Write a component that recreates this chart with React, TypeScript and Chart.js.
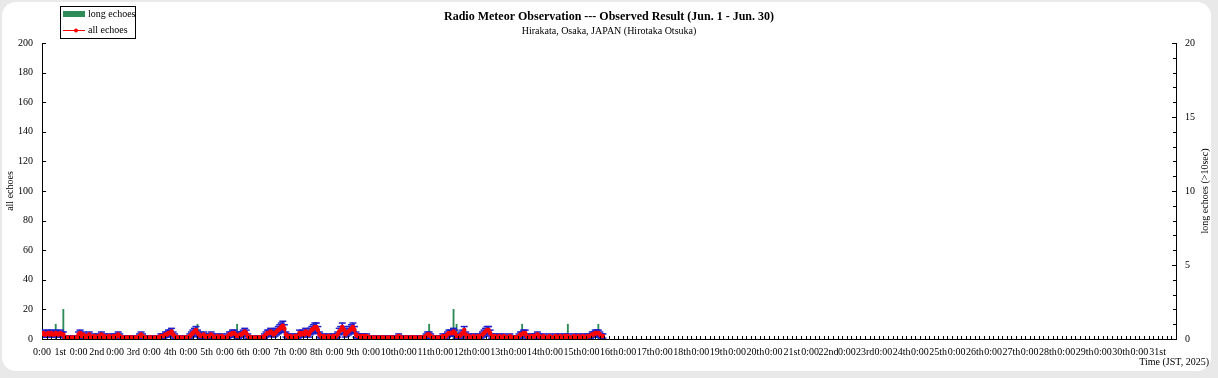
import React, { useEffect, useRef } from 'react';
import { Chart, registerables } from 'chart.js';

Chart.register(...registerables);

const FONT = "'Liberation Serif', 'Times New Roman', serif";

const TITLE = 'Radio Meteor Observation --- Observed Result (Jun. 1 - Jun. 30)';
const SUBTITLE = 'Hirakata, Osaka, JAPAN (Hirotaka Otsuka)';

// x axis: hours since Jun 1 0:00 (31-day frame)
const X_MAX_HOURS = 744;

const dayOrdinals = [
  '1st', '2nd', '3rd', '4th', '5th', '6th', '7th', '8th', '9th', '10th',
  '11th', '12th', '13th', '14th', '15th', '16th', '17th', '18th', '19th', '20th',
  '21st', '22nd', '23rd', '24th', '25th', '26th', '27th', '28th', '29th', '30th', '31st',
];

// hourly counts of all echoes, starting Jun 1 0:00
const allEchoes: number[] = [
  3, 4, 3, 3, 4, 3, 4, 3, 3, 4, 3, 3, 4, 3, 3, 1, 0, 1, 1, 0, 1, 1, 0, 1, // Jun 1
  3, 4, 2, 3, 1, 2, 1, 3, 1, 1, 2, 1, 1, 2, 1, 3, 1, 2, 1, 1, 2, 1, 1, 2, // Jun 2
  1, 2, 3, 2, 1, 1, 1, 0, 1, 1, 1, 1, 0, 1, 1, 1, 2, 3, 2, 1, 1, 0, 1, 1, // Jun 3
  1, 0, 1, 1, 1, 1, 2, 2, 2, 3, 3, 4, 4, 5, 3, 2, 1, 1, 1, 1, 0, 1, 1, 1, // Jun 4
  1, 2, 3, 4, 5, 6, 4, 3, 2, 2, 3, 2, 1, 2, 2, 3, 2, 1, 1, 2, 1, 1, 2, 1, // Jun 5
  1, 1, 2, 3, 3, 4, 4, 3, 2, 2, 3, 3, 4, 5, 4, 2, 1, 1, 1, 1, 0, 1, 1, 1, // Jun 6
  1, 1, 2, 3, 4, 4, 5, 4, 3, 4, 5, 6, 7, 8, 9, 7, 3, 2, 1, 2, 1, 1, 2, 1, // Jun 7
  2, 4, 3, 4, 3, 5, 4, 3, 5, 6, 7, 8, 8, 6, 3, 2, 1, 2, 1, 1, 2, 1, 1, 2, // Jun 8
  1, 2, 3, 5, 6, 8, 6, 3, 4, 5, 6, 7, 8, 6, 3, 2, 2, 1, 2, 2, 1, 2, 1, 1, // Jun 9
  1, 1, 0, 1, 1, 0, 1, 1, 1, 0, 1, 0, 1, 1, 1, 0, 1, 1, 2, 1, 1, 0, 1, 1, // Jun 10
  1, 0, 1, 1, 1, 1, 0, 1, 1, 1, 1, 1, 2, 3, 3, 2, 1, 1, 1, 1, 0, 1, 1, 2, // Jun 11
  1, 2, 3, 4, 4, 4, 5, 4, 2, 2, 2, 3, 4, 6, 3, 1, 2, 1, 1, 2, 1, 1, 2, 1, // Jun 12
  2, 3, 4, 5, 6, 6, 4, 2, 1, 2, 1, 1, 2, 1, 1, 2, 1, 1, 1, 2, 1, 1, 1, 1, // Jun 13
  1, 2, 3, 3, 4, 4, 2, 1, 1, 2, 1, 2, 2, 3, 2, 1, 1, 2, 1, 1, 1, 2, 1, 1, // Jun 14
  1, 2, 1, 1, 2, 1, 1, 2, 1, 2, 1, 1, 1, 2, 1, 1, 2, 1, 1, 2, 1, 1, 2, 2, // Jun 15
  2, 3, 3, 4, 4, 4, 3, 2, 2, // Jun 16
];

// error bar half-lengths for all echoes (blue bars)
const allEchoesErr: number[] = [
  1.7, 2, 1.7, 1.7, 2, 1.7, 2, 1.7, 1.7, 2, 1.7, 1.7, 2, 1.7, 1.7, 1, 0, 1, 1, 0, 1, 1, 0, 1,
  1.7, 2, 1.4, 1.7, 1, 1.4, 1, 1.7, 1, 1, 1.4, 1, 1, 1.4, 1, 1.7, 1, 1.4, 1, 1, 1.4, 1, 1, 1.4,
  1, 1.4, 1.7, 1.4, 1, 1, 1, 0, 1, 1, 1, 1, 0, 1, 1, 1, 1.4, 1.7, 1.4, 1, 1, 0, 1, 1,
  1, 0, 1, 1, 1, 1, 1.4, 1.4, 1.4, 1.7, 1.7, 2, 2, 2.2, 1.7, 1.4, 1, 1, 1, 1, 0, 1, 1, 1,
  1, 1.4, 1.7, 2, 2.2, 2.4, 2, 1.7, 1.4, 1.4, 1.7, 1.4, 1, 1.4, 1.4, 1.7, 1.4, 1, 1, 1.4, 1, 1, 1.4, 1,
  1, 1, 1.4, 1.7, 1.7, 2, 2, 1.7, 1.4, 1.4, 1.7, 1.7, 2, 2.2, 2, 1.4, 1, 1, 1, 1, 0, 1, 1, 1,
  1, 1, 1.4, 1.7, 2, 2, 2.2, 2, 1.7, 2, 2.2, 2.4, 2.6, 2.8, 3, 2.6, 1.7, 1.4, 1, 1.4, 1, 1, 1.4, 1,
  1.4, 2, 1.7, 2, 1.7, 2.2, 2, 1.7, 2.2, 2.4, 2.6, 2.8, 2.8, 2.4, 1.7, 1.4, 1, 1.4, 1, 1, 1.4, 1, 1, 1.4,
  1, 1.4, 1.7, 2.2, 2.4, 2.8, 2.4, 1.7, 2, 2.2, 2.4, 2.6, 2.8, 2.4, 1.7, 1.4, 1.4, 1, 1.4, 1.4, 1, 1.4, 1, 1,
  1, 1, 0, 1, 1, 0, 1, 1, 1, 0, 1, 0, 1, 1, 1, 0, 1, 1, 1.4, 1, 1, 0, 1, 1,
  1, 0, 1, 1, 1, 1, 0, 1, 1, 1, 1, 1, 1.4, 1.7, 1.7, 1.4, 1, 1, 1, 1, 0, 1, 1, 1.4,
  1, 1.4, 1.7, 2, 2, 2, 2.2, 2, 1.4, 1.4, 1.4, 1.7, 2, 2.4, 1.7, 1, 1.4, 1, 1, 1.4, 1, 1, 1.4, 1,
  1.4, 1.7, 2, 2.2, 2.4, 2.4, 2, 1.4, 1, 1.4, 1, 1, 1.4, 1, 1, 1.4, 1, 1, 1, 1.4, 1, 1, 1, 1,
  1, 1.4, 1.7, 1.7, 2, 2, 1.4, 1, 1, 1.4, 1, 1.4, 1.4, 1.7, 1.4, 1, 1, 1.4, 1, 1, 1, 1.4, 1, 1,
  1, 1.4, 1, 1, 1.4, 1, 1, 1.4, 1, 1.4, 1, 1, 1, 1.4, 1, 1, 1.4, 1, 1, 1.4, 1, 1, 1.4, 1.4,
  1.4, 1.7, 1.7, 2, 2, 2, 1.7, 1.4, 1.4,
];

// long echoes (> 10 sec): hour since Jun 1 0:00 and count
const longEchoHours = [9, 14, 102, 128, 254, 270, 272, 315, 345, 365];
const longEchoCounts = [1, 2, 1, 1, 1, 2, 1, 1, 1, 1];

const RED = '#ff0000';
const BLUE = '#2020c8';
const GREEN = '#2e8b57';

const decorPlugin = {
  id: 'decor',
  afterDraw(chart: any) {
    const { ctx, chartArea, scales } = chart;
    const x = scales.x;
    const y = scales.y;
    const y2 = scales.y2;
    ctx.save();
    ctx.strokeStyle = '#000';
    ctx.lineWidth = 1;
    ctx.beginPath();
    // inward minor ticks on x axis every 3 hours
    for (let h = 0; h <= X_MAX_HOURS; h += 3) {
      const px = Math.round(x.getPixelForValue(h)) + 0.5;
      ctx.moveTo(px, chartArea.bottom);
      ctx.lineTo(px, chartArea.bottom - 3);
    }
    // left axis ticks
    y.ticks.forEach((t: any) => {
      const py = Math.round(y.getPixelForValue(t.value)) + 0.5;
      ctx.moveTo(chartArea.left, py);
      ctx.lineTo(chartArea.left + 4, py);
    });
    // right axis ticks (minor every 1)
    for (let v = 0; v <= 20; v += 1) {
      const py = Math.round(y2.getPixelForValue(v)) + 0.5;
      const len = v % 5 === 0 ? 4 : 3;
      ctx.moveTo(chartArea.right, py);
      ctx.lineTo(chartArea.right - len, py);
    }
    ctx.stroke();

    ctx.fillStyle = '#000';
    ctx.font = `10px ${FONT}`;
    ctx.textBaseline = 'middle';

    // x axis title
    ctx.textAlign = 'right';
    ctx.fillText('Time (JST, 2025)', 1209, 362);

    const midY = (chartArea.top + chartArea.bottom) / 2;
    // left axis title
    ctx.save();
    ctx.translate(10, midY);
    ctx.rotate(-Math.PI / 2);
    ctx.textAlign = 'center';
    ctx.fillText('all echoes', 0, 0);
    ctx.restore();
    // right axis title
    ctx.save();
    ctx.translate(1205, midY);
    ctx.rotate(-Math.PI / 2);
    ctx.textAlign = 'center';
    ctx.fillText('long echoes (>10sec)', 0, 0);
    ctx.restore();

    // legend
    ctx.fillStyle = '#fff';
    ctx.fillRect(60, 6, 75, 32);
    ctx.strokeStyle = '#000';
    ctx.strokeRect(60.5, 6.5, 75, 32);
    ctx.fillStyle = GREEN;
    ctx.fillRect(63, 11, 22, 6);
    ctx.strokeStyle = RED;
    ctx.lineWidth = 1;
    ctx.beginPath();
    ctx.moveTo(63, 30.5);
    ctx.lineTo(85, 30.5);
    ctx.stroke();
    ctx.fillStyle = RED;
    ctx.beginPath();
    ctx.arc(76, 30.5, 2, 0, Math.PI * 2);
    ctx.fill();
    ctx.fillStyle = '#000';
    ctx.textAlign = 'left';
    ctx.fillText('long echoes', 88, 14);
    ctx.fillText('all echoes', 88, 30);
    ctx.restore();
  },
};

export default function App() {
  const ref = useRef<HTMLCanvasElement>(null);

  useEffect(() => {
    const linePts = allEchoes.map((v, i) => ({ x: i, y: v }));
    const errBars: any[] = [];
    const capsHi: any[] = [];
    const capsLo: any[] = [];
    allEchoes.forEach((v, i) => {
      const e = allEchoesErr[i];
      if (!e) return;
      const lo = Math.max(0, v - e);
      const hi = v + e;
      errBars.push({ x: i, y: [lo, hi] });
      capsHi.push({ x: i, y: hi });
      capsLo.push({ x: i, y: lo });
    });
    const longPts = longEchoHours.map((h, i) => ({ x: h, y: longEchoCounts[i] }));

    const tickFont = { family: FONT, size: 10 };

    const chart = new Chart(ref.current as HTMLCanvasElement, {
      type: 'bar',
      data: {
        datasets: [
          {
            type: 'line',
            label: 'all echoes',
            data: linePts,
            xAxisID: 'x',
            yAxisID: 'y',
            borderColor: RED,
            borderWidth: 1.5,
            pointRadius: 2.3,
            pointBackgroundColor: RED,
            pointBorderWidth: 0,
            pointStyle: 'circle',
            order: 0,
          } as any,
          {
            type: 'line',
            label: 'err hi',
            data: capsHi,
            xAxisID: 'x',
            yAxisID: 'y',
            showLine: false,
            pointStyle: 'line',
            pointRadius: 3.5,
            borderColor: BLUE,
            pointBorderColor: BLUE,
            pointBorderWidth: 1.5,
            order: 1,
          } as any,
          {
            type: 'line',
            label: 'err lo',
            data: capsLo,
            xAxisID: 'x',
            yAxisID: 'y',
            showLine: false,
            pointStyle: 'line',
            pointRadius: 3.5,
            borderColor: BLUE,
            pointBorderColor: BLUE,
            pointBorderWidth: 1.5,
            order: 1,
          } as any,
          {
            type: 'bar',
            label: 'err',
            data: errBars,
            xAxisID: 'x',
            yAxisID: 'y',
            backgroundColor: BLUE,
            barThickness: 1,
            grouped: false,
            order: 2,
          } as any,
          {
            type: 'bar',
            label: 'long echoes',
            data: longPts,
            xAxisID: 'x',
            yAxisID: 'y2',
            backgroundColor: GREEN,
            barThickness: 1.2,
            grouped: false,
            order: 3,
          } as any,
        ],
      },
      options: {
        responsive: false,
        animation: false,
        devicePixelRatio: 1,
        layout: { padding: 0 },
        events: [],
        plugins: {
          legend: { display: false },
          tooltip: { enabled: false },
          title: {
            display: true,
            text: TITLE,
            color: '#000',
            font: { family: FONT, size: 12, weight: 'bold' },
            padding: { top: 10, bottom: 1 },
          },
          subtitle: {
            display: true,
            text: SUBTITLE,
            color: '#000',
            font: { family: FONT, size: 10 },
            padding: { top: 0, bottom: 5.6 },
          },
        },
        scales: {
          x: {
            type: 'linear',
            position: 'bottom',
            offset: false,
            min: 0,
            max: X_MAX_HOURS,
            grid: { display: false, drawTicks: false, offset: false },
            border: { display: true, color: '#000', width: 1 },
            ticks: {
              stepSize: 12,
              maxTicksLimit: 100,
              autoSkip: false,
              maxRotation: 0,
              minRotation: 0,
              padding: 7,
              color: '#000',
              font: tickFont,
              callback: (value: any) => {
                const v = Number(value);
                if (v % 24 === 0) return v < X_MAX_HOURS ? '0:00' : '';
                return dayOrdinals[Math.floor(v / 24)] ?? '';
              },
            },
            afterFit: (s: any) => {
              s.height = 39;
            },
          },
          y: {
            type: 'linear',
            position: 'left',
            min: 0,
            max: 200,
            grid: { display: false, drawTicks: false },
            border: { display: true, color: '#000', width: 1 },
            ticks: { stepSize: 20, padding: 9, color: '#000', font: tickFont },
            afterFit: (s: any) => {
              s.width = 42;
            },
          },
          y2: {
            type: 'linear',
            position: 'right',
            min: 0,
            max: 20,
            grid: { display: false, drawTicks: false },
            border: { display: true, color: '#000', width: 1 },
            ticks: { stepSize: 5, padding: 9, color: '#000', font: tickFont },
            afterFit: (s: any) => {
              s.width = 42;
            },
          },
        },
      } as any,
      plugins: [decorPlugin],
    });
    return () => chart.destroy();
  }, []);

  return (
    <div
      style={{
        position: 'absolute',
        left: 0,
        top: 0,
        width: 1218,
        height: 378,
        background: '#e9e9e9',
        overflow: 'hidden',
      }}
    >
      <div
        style={{
          position: 'absolute',
          left: 2,
          top: 2,
          width: 1209,
          height: 369,
          background: '#ffffff',
          borderRadius: 14,
        }}
      />
      <canvas
        ref={ref}
        width={1218}
        height={378}
        style={{ position: 'absolute', left: 0, top: 0, width: 1218, height: 378 }}
      />
    </div>
  );
}
